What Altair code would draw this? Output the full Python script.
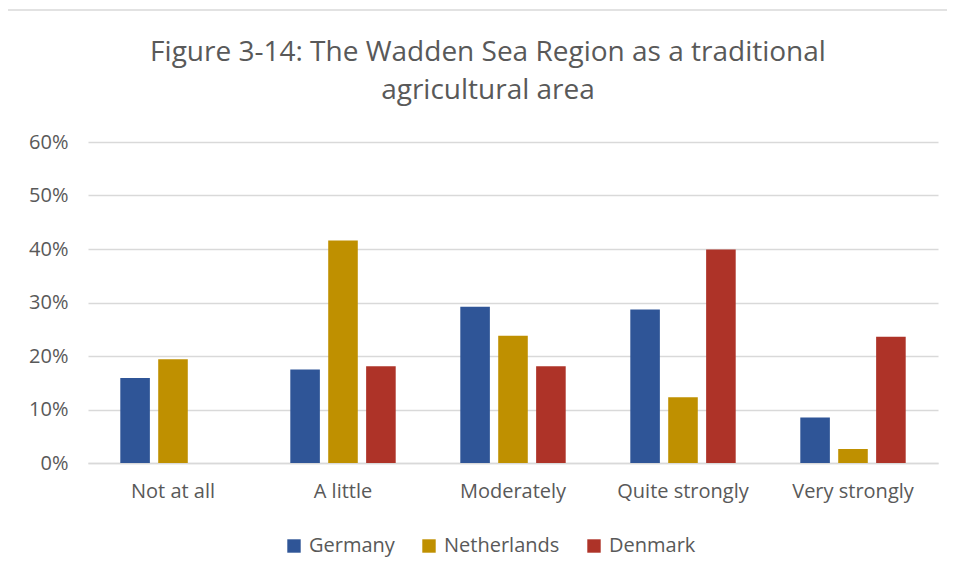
import altair as alt
import pandas as pd

categories = ["Not at all", "A little", "Moderately", "Quite strongly", "Very strongly"]
countries = ["Germany", "Netherlands", "Denmark"]
germany = [0.159, 0.175, 0.292, 0.287, 0.085]
netherlands = [0.194, 0.416, 0.238, 0.123, 0.026]
denmark = [None, 0.181, 0.181, 0.399, 0.236]
colors = ["#2F5597", "#BF9000", "#AE3328"]
y_ticks = [0, 0.1, 0.2, 0.3, 0.4, 0.5, 0.6]
title_lines = ["Figure 3-14: The Wadden Sea Region as a traditional", "agricultural area"]

rows = []
for name, vals in zip(countries, [germany, netherlands, denmark]):
    for c, v in zip(categories, vals):
        if v is not None:
            rows.append({"category": c, "country": name, "value": v})
df = pd.DataFrame(rows)

FONT = "Open Sans"
GREY = "#595959"

bars = alt.Chart(df).mark_bar().encode(
    x=alt.X("category:N", sort=categories,
            scale=alt.Scale(paddingInner=0.38, paddingOuter=0.19),
            axis=alt.Axis(title=None, labelAngle=0, ticks=False, domain=True,
                          domainColor="#D9D9D9", domainWidth=1.5,
                          labelFontSize=20, labelFont=FONT, labelColor=GREY,
                          labelPadding=18)),
    xOffset=alt.XOffset("country:N", sort=countries,
                        scale=alt.Scale(paddingInner=0.22, paddingOuter=0)),
    y=alt.Y("value:Q", scale=alt.Scale(domain=[0, 0.6]),
            axis=alt.Axis(title=None, format=".0%", values=y_ticks, grid=True,
                          gridColor="#D9D9D9", gridWidth=1.5, domain=False,
                          ticks=False, labelFontSize=20, labelFont=FONT,
                          labelColor=GREY, labelPadding=20)),
    color=alt.Color("country:N", sort=countries,
                    scale=alt.Scale(domain=countries, range=colors),
                    legend=alt.Legend(title=None, orient="none", direction="horizontal",
                                      legendX=196, legendY=394,
                                      symbolType="square", symbolSize=180,
                                      symbolStrokeWidth=0,
                                      labelFontSize=20, labelFont=FONT,
                                      labelColor=GREY, labelOffset=5,
                                      columnPadding=24)),
)

one = pd.DataFrame({"k": [0]})
top_line = alt.Chart(one).mark_rule(color="#D9D9D9", strokeWidth=1.5).encode(
    x=alt.value(-81), x2=alt.value(870), y=alt.value(-132))
left_line = alt.Chart(one).mark_rule(color="#D9D9D9", strokeWidth=1.5).encode(
    x=alt.value(-81), y=alt.value(-132), y2=alt.value(445))
title = alt.Chart(one).mark_text(
    font=FONT, fontSize=28, fontWeight="normal", color=GREY, align="center",
    baseline="alphabetic", lineHeight=38,
).encode(x=alt.value(400), y=alt.value(-81), text=alt.value(title_lines))

chart = alt.layer(top_line, left_line, title, bars).properties(
    width=850, height=321,
    autosize=alt.AutoSizeParams(type="none"),
    padding={"left": 80, "top": 134, "right": 9, "bottom": 100},
).configure_view(stroke=None)

chart.save("out.html", embed_options={"renderer": "svg", "actions": False})
